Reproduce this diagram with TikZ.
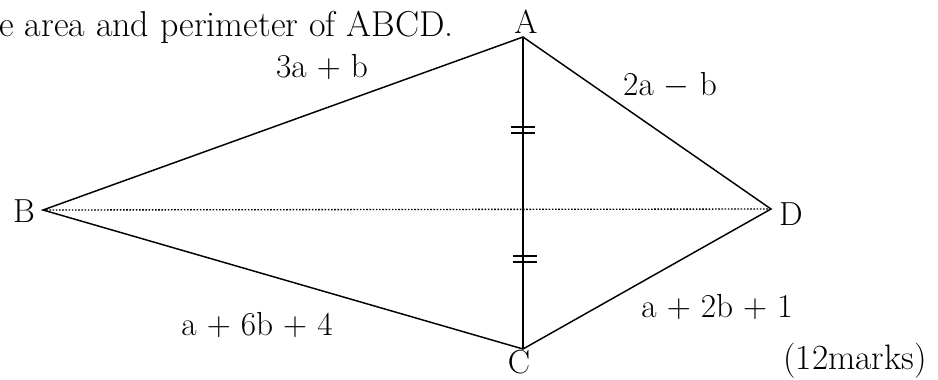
\documentclass[tikz,border=0pt]{standalone}
\usepackage{fontspec}
\usepackage{tikz}

\begin{document}
\begin{tikzpicture}[
    x=0.75pt, y=-0.75pt,
    edge/.style={line width=1.1pt},
    diag/.style={line width=1.5pt},
    dotline/.style={line width=1pt, dash pattern=on 1.2pt off 1.2pt},
    eqmark/.style={line width=1.1pt},
    lbl/.style={inner sep=0, anchor=base, font=\fontsize{25}{30}\selectfont}
]
\useasboundingbox (0,0) rectangle (938,379);

\coordinate (A) at (523,37);
\coordinate (B) at (43,210);
\coordinate (C) at (523,349);
\coordinate (D) at (771,209);

\node[lbl, anchor=base west, font=\fontsize{27}{32}\selectfont] (task) at (-1,36) {e area and perimeter of ABCD.};
\node[lbl] (nA) at (526,33) {A};
\node[lbl] (nB) at (24,222) {B};
\node[lbl] (nC) at (519,373) {C};
\node[lbl] (nD) at (791,225) {D};

\node[lbl] (sAB) at (322,77) {3a + b};
\node[lbl] (sAD) at (670,95) {2a $-$ b};
\node[lbl] (sBC) at (257,335) {a + 6b + 4};
\node[lbl] (sCD) at (717,317) {a + 2b + 1};
\node[lbl, font=\fontsize{26.5}{31}\selectfont] (marks) at (855,369) {(12marks)};

\draw[dotline] (B) -- (D);
\draw[edge] (A) -- (B) -- (C) -- (D) -- cycle;
\draw[diag] (A) -- (C);

\foreach \y in {127,133} \draw[eqmark] (511,\y) -- (535,\y);
\foreach \y in {256,262} \draw[eqmark] (513,\y) -- (537,\y);
\end{tikzpicture}
\end{document}
